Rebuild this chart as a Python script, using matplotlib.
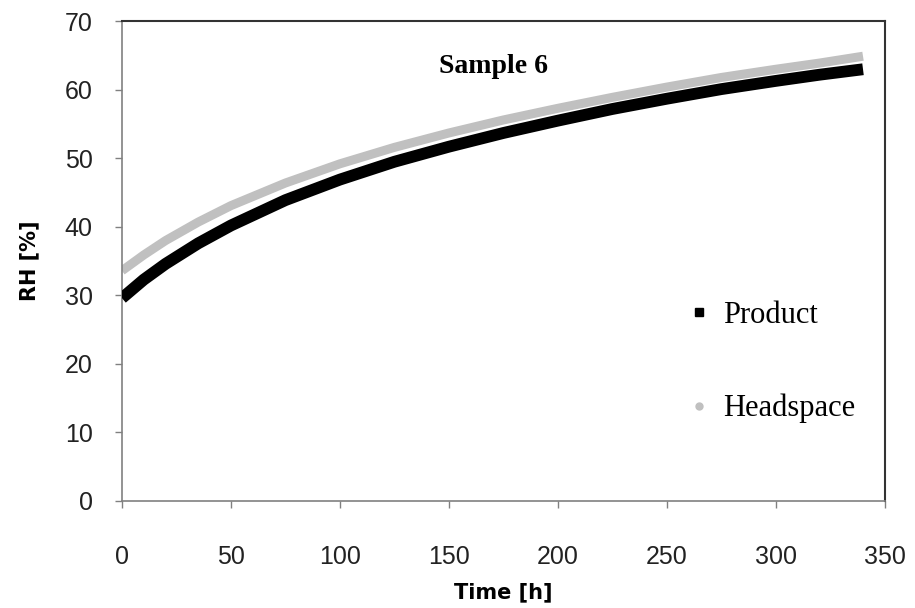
import matplotlib
matplotlib.use("Agg")
import matplotlib.pyplot as plt
from matplotlib.lines import Line2D

# values
time_h = [0, 10, 20, 35, 50, 75, 100, 125, 150, 175, 200, 225, 250, 275, 300, 320, 340]
rh_product = [29.6, 32.3, 34.6, 37.6, 40.2, 43.9, 46.9, 49.5, 51.7, 53.7, 55.5, 57.2, 58.7, 60.1, 61.3, 62.2, 63.0]
rh_headspace = [33.6, 35.9, 38.0, 40.7, 43.1, 46.4, 49.2, 51.6, 53.7, 55.6, 57.3, 58.9, 60.4, 61.8, 63.0, 63.9, 64.9]
x_ticks = [0, 50, 100, 150, 200, 250, 300, 350]
y_ticks = [0, 10, 20, 30, 40, 50, 60, 70]

fig = plt.figure(figsize=(9.15, 6.08), dpi=100)
ax = fig.add_axes([0.1333, 0.176, 0.8337, 0.789])

ax.plot(time_h, rh_headspace, color="#c0c0c0", lw=6.5, solid_capstyle="butt", zorder=2)
ax.plot(time_h, rh_product, color="black", lw=8.5, solid_capstyle="butt", zorder=3)

ax.set_xlim(0, 350)
ax.set_ylim(0, 70)
ax.set_xticks(x_ticks)
ax.set_yticks(y_ticks)

for side in ["left", "bottom"]:
    ax.spines[side].set_color("#808080")
    ax.spines[side].set_linewidth(1.2)
for side in ["top", "right"]:
    ax.spines[side].set_color("#333333")
    ax.spines[side].set_linewidth(1.5)

ax.tick_params(axis="both", direction="out", length=5, width=1, color="#808080")
ax.tick_params(axis="x", pad=27)
ax.tick_params(axis="y", pad=16)
for lab in ax.get_xticklabels() + ax.get_yticklabels():
    lab.set_fontfamily("Liberation Sans")
    lab.set_fontsize(18)
    lab.set_color("#222222")

ax.set_xlabel("Time [h]", fontsize=15, fontweight="bold", family="DejaVu Sans", labelpad=9)
ax.set_ylabel("RH [%]", fontsize=15, fontweight="bold", family="DejaVu Sans", labelpad=18)

ax.text(0.487, 0.905, "Sample 6", transform=ax.transAxes, ha="center", va="center",
        fontsize=20, fontweight="bold", family="Liberation Serif")

handles = [
    Line2D([], [], ls="none", marker="s", markersize=6, color="black"),
    Line2D([], [], ls="none", marker="o", markersize=5, color="#c0c0c0"),
]
ax.legend(handles, ["Product", "Headspace"], loc="center left", bbox_to_anchor=(0.708, 0.29),
          frameon=False, labelspacing=2.1, handlelength=0.6, handletextpad=0.5,
          prop={"family": "Liberation Serif", "size": 22})

fig.savefig("out.png", dpi=100)
